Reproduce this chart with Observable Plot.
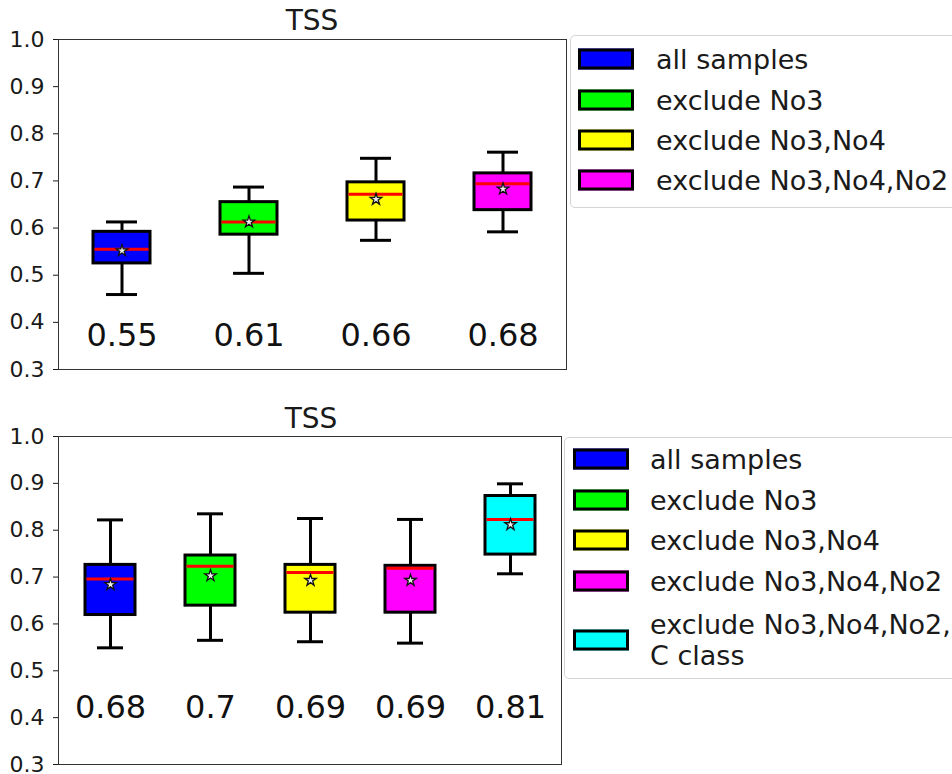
<!DOCTYPE html>
<html>
<head>
<meta charset="utf-8">
<script src="https://cdn.jsdelivr.net/npm/d3@7"></script>
<script src="https://cdn.jsdelivr.net/npm/@observablehq/plot@0.6"></script>
<style>
  html, body { margin: 0; padding: 0; background: #fff; overflow: hidden; }
  #wrap { position: relative; width: 952px; height: 774px; overflow: hidden; font-family: "DejaVu Sans", sans-serif; color: #1a1a1a; }
  .plot { position: absolute; left: 0; }
  .title { position: absolute; font-size: 28px; transform: translate(-50%, -50%); white-space: nowrap; }
  .legend { position: absolute; background: #fff; border: 1px solid #d4d4d4; border-radius: 5px; width: 420px; }
  .patch { position: absolute; width: 56px; height: 21px; border: 3px solid #000; box-sizing: border-box; transform: translateY(-50%); }
  .ltext { position: absolute; font-size: 27px; line-height: 31px; transform: translateY(-50%); white-space: nowrap; }
</style>
</head>
<body>
<div id="wrap"></div>
<script>
// ---------- data ----------
const yTicks = [0.3, 0.4, 0.5, 0.6, 0.7, 0.8, 0.9, 1.0];
const titleText = "TSS";

// top panel
const cats1   = ["all samples", "exclude No3", "exclude No3,No4", "exclude No3,No4,No2"];
const colors1 = ["#0000ff", "#00ff00", "#ffff00", "#ff00ff"];
const lo1     = [0.459, 0.504, 0.574, 0.592];
const q1_1    = [0.525, 0.586, 0.616, 0.638];
const med1    = [0.555, 0.613, 0.672, 0.694];
const q3_1    = [0.592, 0.655, 0.697, 0.716];
const hi1     = [0.613, 0.687, 0.748, 0.761];
const mean1   = [0.552, 0.613, 0.661, 0.683];
const labels1 = ["0.55", "0.61", "0.66", "0.68"];

// bottom panel
const cats2   = ["all samples", "exclude No3", "exclude No3,No4", "exclude No3,No4,No2", "exclude No3,No4,No2,\nC class"];
const colors2 = ["#0000ff", "#00ff00", "#ffff00", "#ff00ff", "#00ffff"];
const lo2     = [0.549, 0.565, 0.562, 0.559, 0.707];
const q1_2    = [0.619, 0.639, 0.624, 0.624, 0.748];
const med2    = [0.696, 0.723, 0.710, 0.719, 0.823];
const q3_2    = [0.726, 0.746, 0.726, 0.724, 0.873];
const hi2     = [0.822, 0.835, 0.825, 0.823, 0.899];
const mean2   = [0.684, 0.703, 0.693, 0.693, 0.812];
const labels2 = ["0.68", "0.7", "0.69", "0.69", "0.81"];

// ---------- drawing ----------
function boxChart(o) {
  const data = o.cats.map((c, i) => ({
    c, lo: o.lo[i], q1: o.q1[i], med: o.med[i], q3: o.q3[i], hi: o.hi[i], mean: o.mean[i], label: o.labels[i]
  }));
  return Plot.plot({
    width: o.width, height: o.height,
    marginLeft: 58, marginTop: 39, marginRight: o.marginRight, marginBottom: o.marginBottom,
    style: { fontFamily: "DejaVu Sans, sans-serif", fontSize: "22px", color: "#1a1a1a", background: "transparent", overflow: "visible" },
    x: { domain: o.cats, axis: null, paddingInner: o.pad, paddingOuter: o.pad / 2 },
    y: { domain: [0.3, 1.0], ticks: yTicks, tickFormat: d3.format(".1f"), tickSize: 5, tickPadding: 9, label: null },
    color: { domain: o.cats, range: o.colors },
    marks: [
      Plot.ruleX(data, { x: "c", y1: "lo", y2: "hi", stroke: "#000", strokeWidth: 3 }),
      Plot.barY(data, { x: "c", y1: "q1", y2: "q3", fill: "c", stroke: "#000", strokeWidth: 3 }),
      Plot.tickY(data, { x: "c", y: "med", stroke: "#ff0000", strokeWidth: 3, inset: 1.5 }),
      Plot.tickY(data, { x: "c", y: "lo", stroke: "#000", strokeWidth: 3, inset: o.capInset }),
      Plot.tickY(data, { x: "c", y: "hi", stroke: "#000", strokeWidth: 3, inset: o.capInset }),
      Plot.dot(data, { x: "c", y: "mean", symbol: "star", r: 3.6, fill: "#eee", stroke: "#111", strokeWidth: 1.3 }),
      Plot.text(data, { x: "c", y: o.labelY, text: "label", fontSize: 32, lineAnchor: "bottom", fill: "#111" }),
      Plot.frame({ stroke: "#333", strokeWidth: 1 })
    ]
  });
}

const wrap = document.getElementById("wrap");

function place(el, top) {
  el.classList.add("plot");
  el.style.top = top + "px";
  wrap.appendChild(el);
}

place(boxChart({
  cats: cats1, colors: colors1, lo: lo1, q1: q1_1, med: med1, q3: q3_1, hi: hi1, mean: mean1, labels: labels1,
  width: 570, height: 392, marginRight: 4, marginBottom: 23, pad: 0.55, capInset: 13, labelY: 0.35
}), 0);

place(boxChart({
  cats: cats2, colors: colors2, lo: lo2, q1: q1_2, med: med2, q3: q3_2, hi: hi2, mean: mean2, labels: labels2,
  width: 570, height: 376, marginRight: 9, marginBottom: 9, pad: 0.5, capInset: 12, labelY: 0.4
}), 397);

function title(x, y) {
  const d = document.createElement("div");
  d.className = "title";
  d.textContent = titleText;
  d.style.left = x + "px";
  d.style.top = y + "px";
  wrap.appendChild(d);
}
title(312, 20);
title(311, 418);

function legend(cats, colors, box, rows, patchLeft, textLeft) {
  const lg = document.createElement("div");
  lg.className = "legend";
  lg.style.left = box.left + "px";
  lg.style.top = box.top + "px";
  lg.style.height = box.height + "px";
  cats.forEach((c, i) => {
    const p = document.createElement("div");
    p.className = "patch";
    p.style.background = colors[i];
    p.style.left = patchLeft + "px";
    p.style.top = rows[i] + "px";
    lg.appendChild(p);
    const t = document.createElement("div");
    t.className = "ltext";
    t.style.left = textLeft + "px";
    t.style.top = rows[i] + "px";
    t.innerHTML = c.split("\n").join("<br>");
    lg.appendChild(t);
  });
  wrap.appendChild(lg);
}

legend(cats1, colors1, { left: 570, top: 35, height: 171 }, [23, 64, 104, 144], 7, 85);
legend(cats2, colors2, { left: 564, top: 437, height: 240 }, [21, 62, 102, 143, 202], 8, 85);
</script>
</body>
</html>
